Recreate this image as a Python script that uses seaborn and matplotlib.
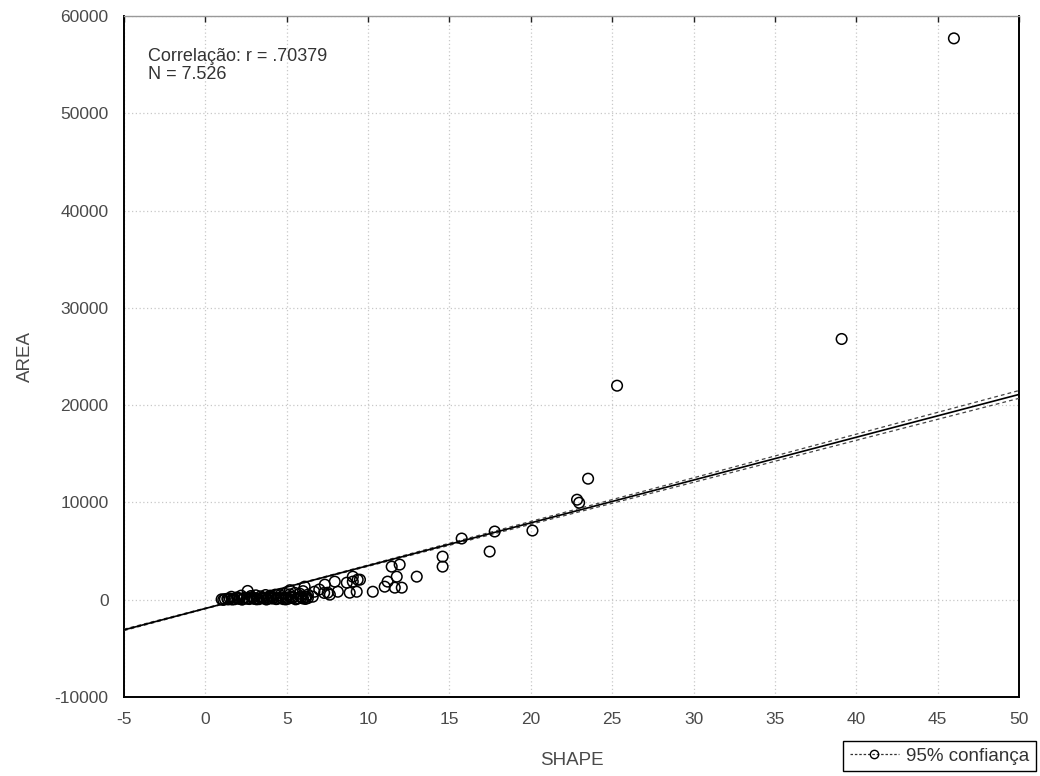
import matplotlib
matplotlib.use("Agg")
import matplotlib.pyplot as plt
from matplotlib.lines import Line2D
import numpy as np
import pandas as pd
import seaborn as sns

# Observations: SHAPE index vs. patch AREA
shape = [
    1.0, 1.2, 1.4, 1.5, 1.7, 1.8, 2.0, 2.1, 2.3, 2.4, 2.6, 2.7, 2.9, 3.0, 3.2, 3.3,
    3.5, 3.6, 3.8, 3.9, 4.1, 4.2, 4.4, 4.5, 4.7, 4.8, 5.0, 5.1, 5.3, 5.4, 5.6, 5.7,
    5.9, 6.0, 6.2, 6.3,
    1.1, 1.35, 1.65, 1.95, 2.25, 2.55, 2.85, 3.15, 3.45, 3.75, 4.05, 4.35, 4.65,
    4.95, 5.25, 5.55, 5.85, 6.15,
    1.6, 2.2, 2.6, 2.8, 3.1, 3.4, 3.7, 4.0, 4.3, 4.6, 4.9, 5.2, 5.2, 5.5, 5.8, 6.0,
    6.1, 6.3, 6.6, 6.7, 7.0, 7.3, 7.65,
    7.34, 7.52, 8.14, 7.95, 9.06, 9.30, 9.36, 10.29, 11.02, 11.45, 11.94, 11.2,
    11.64, 12.07, 11.76, 12.99, 8.69, 9.06, 9.5, 8.87,
    14.58, 14.58, 15.75, 17.47, 17.78, 20.1, 22.84, 22.97, 23.52, 25.3, 39.1, 46.0,
]
area = [
    40, 60, 30, 120, 80, 50, 150, 90, 60, 200, 110, 70, 180, 90, 130, 60,
    210, 140, 80, 160, 120, 230, 90, 170, 140, 60, 200, 110, 180, 250, 90, 150,
    220, 130, 280, 170,
    -20, 100, 20, 240, 10, 150, 260, 40, 180, 20, 300, 60, 250,
    30, 320, 40, 350, 80,
    300, 420, 900, 380, 450, 350, 480, 420, 520, 460, 600, 980, 550, 700, 620, 880,
    1340, 520, 310, 820, 1050, 700, 520,
    1550, 720, 820, 1860, 1860, 820, 2060, 820, 1340, 3400, 3610, 1860,
    1240, 1240, 2370, 2370, 1750, 2370, 2060, 720,
    4430, 3400, 6290, 4950, 7010, 7110, 10280, 9970, 12440, 22000, 26800, 57700,
]

# Linear fit and its 95% confidence band
fit_slope = 440.0
fit_intercept = -900.0
ci_center = 3.0
ci_spread = 8.5
ci_floor = 30.0

x_ticks = [-5, 0, 5, 10, 15, 20, 25, 30, 35, 40, 45, 50]
y_ticks = [-10000, 0, 10000, 20000, 30000, 40000, 50000, 60000]

sns.set_style("white")
plt.rcParams["font.family"] = ["Liberation Sans", "DejaVu Sans"]

fig = plt.figure(figsize=(10.4, 7.76), dpi=100)
ax = fig.add_axes([124 / 1040, 1 - 697 / 776, 895 / 1040, 681 / 776])

df = pd.DataFrame({"SHAPE": shape, "AREA": area})

xs = np.linspace(-5, 50, 200)
fit = fit_intercept + fit_slope * xs
half = np.sqrt(ci_floor ** 2 + (ci_spread * (xs - ci_center)) ** 2)
lines = pd.DataFrame({"x": xs, "fit": fit, "lo": fit - half, "hi": fit + half})

sns.lineplot(data=lines, x="x", y="lo", ax=ax, color="#444444", lw=0.9,
             linestyle=(0, (3, 2.5)), zorder=3)
sns.lineplot(data=lines, x="x", y="hi", ax=ax, color="#444444", lw=0.9,
             linestyle=(0, (3, 2.5)), zorder=3)
sns.lineplot(data=lines, x="x", y="fit", ax=ax, color="black", lw=1.2, zorder=4)

sns.scatterplot(data=df, x="SHAPE", y="AREA", ax=ax, marker="o", s=58,
                facecolors="none", edgecolors="black", linewidths=1.1, zorder=5)

ax.set_xlim(-5, 50)
ax.set_ylim(-10000, 60000)
ax.set_xticks(x_ticks)
ax.set_yticks(y_ticks)
ax.set_xticklabels([str(v) for v in x_ticks])
ax.set_yticklabels([str(v) for v in y_ticks])

ax.grid(True, color="#c8c8c8", linestyle=(0, (1, 2)), linewidth=0.9)
ax.tick_params(axis="both", direction="in", length=4, width=1, colors="#222222",
               labelcolor="#4a4a4a", labelsize=12.5)
ax.tick_params(axis="x", pad=11, top=True)
ax.tick_params(axis="y", pad=11)

for side in ["left", "bottom", "right"]:
    ax.spines[side].set_color("black")
    ax.spines[side].set_linewidth(1.4)
ax.spines["top"].set_color("#999999")
ax.spines["top"].set_linewidth(1.0)

ax.set_xlabel("SHAPE", fontsize=13.5, color="#4a4a4a", labelpad=18)
ax.set_ylabel("AREA", fontsize=13.5, color="#4a4a4a", labelpad=15)

ax.text(0.027, 0.941, "Correlação: r = .70379", transform=ax.transAxes,
        fontsize=13, color="#333333", va="center", ha="left")
ax.text(0.027, 0.914, "N = 7.526", transform=ax.transAxes,
        fontsize=13, color="#333333", va="center", ha="left")

handle = Line2D([], [], color="#333333", linestyle=(0, (2, 1.5)), lw=0.9,
                marker="o", markersize=6, markerfacecolor="none",
                markeredgecolor="black")
leg = fig.legend([handle], ["95% confiança"], loc="lower right",
                 bbox_to_anchor=(0.996, 0.006), fontsize=13.5, frameon=True,
                 fancybox=False, edgecolor="black", framealpha=1,
                 handlelength=2.6, handletextpad=0.4, borderpad=0.35,
                 borderaxespad=0)
leg.get_frame().set_linewidth(1.0)
for t in leg.get_texts():
    t.set_color("#333333")

fig.savefig("out.png", dpi=100)
